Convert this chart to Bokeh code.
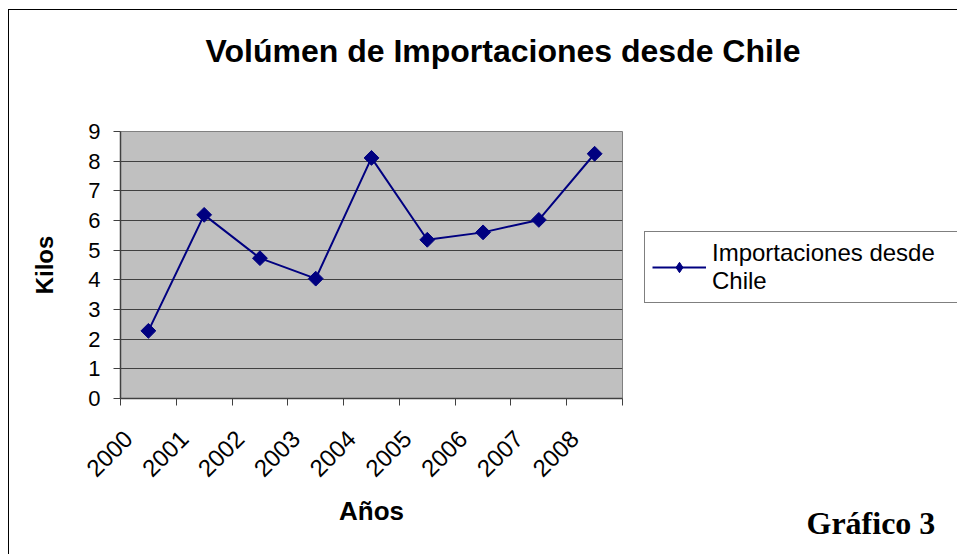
import math
import numpy as np
from bokeh.plotting import figure
from bokeh.models import (FixedTicker, Legend, LegendItem, Title, Range1d)
from bokeh.embed import file_html
from bokeh.resources import INLINE

# ---- data ----
years = ["2000", "2001", "2002", "2003", "2004", "2005", "2006", "2007", "2008"]
kilos = [2.28, 6.19, 4.73, 4.04, 8.11, 5.35, 5.60, 6.02, 8.25]
y_ticks = [0, 1, 2, 3, 4, 5, 6, 7, 8, 9]
title_text = "Volúmen de Importaciones desde Chile"
series_name = "Importaciones desde\nChile"
x_title = "Años"
y_title = "Kilos"
note_text = "Gráfico 3"

FONT = "Liberation Sans"
NAVY = "#000080"

x = np.arange(len(years)) + 0.5
label_shift = 0.36  # labels sit slightly left of the category centre

p = figure(width=948, height=544, frame_width=502, frame_height=267,
           output_backend="svg", toolbar_location=None,
           x_range=Range1d(0, len(years)), y_range=Range1d(0, 9),
           min_border_left=111, min_border_top=121,
           min_border_right=335, min_border_bottom=156)
p.styles = {"border-left": "1px solid black", "border-top": "1px solid black",
            "margin-left": "8px", "margin-top": "9px"}

p.background_fill_color = "#C0C0C0"
p.border_fill_color = "white"
p.outline_line_color = "#808080"
p.outline_line_width = 1

# title: spacer (next to the frame) + main title above it
spacer = Title(text=" ", text_font_size="2px", standoff=36)
p.add_layout(spacer, "above")
main_title = Title(text=title_text, align="left", offset=85,
                   vertical_align="top", standoff=42,
                   text_font=FONT, text_font_size="32px",
                   text_font_style="bold", text_color="black")
p.add_layout(main_title, "above")

# grid
p.xgrid.grid_line_color = None
p.ygrid.grid_line_color = "#404040"
p.ygrid.grid_line_width = 1
p.ygrid.ticker = FixedTicker(ticks=y_ticks)

# y axis
ya = p.yaxis[0]
ya.ticker = FixedTicker(ticks=y_ticks)
ya.axis_line_color = "#404040"
ya.axis_line_width = 1.5
ya.major_tick_line_color = "#404040"
ya.major_tick_out = 7
ya.major_tick_in = 0
ya.minor_tick_line_color = None
ya.major_label_text_font = FONT
ya.major_label_text_font_size = "22px"
ya.major_label_text_color = "black"
ya.major_label_standoff = 13
ya.axis_label = y_title
ya.axis_label_text_font = FONT
ya.axis_label_text_font_size = "24px"
ya.axis_label_text_font_style = "bold"
ya.axis_label_text_color = "black"
ya.axis_label_standoff = 27

# x axis
xa = p.xaxis[0]
label_pos = list(x - label_shift)
xa.ticker = FixedTicker(ticks=label_pos, minor_ticks=list(range(len(years) + 1)))
xa.major_label_overrides = {float(v): lab for v, lab in zip(label_pos, years)}
xa.major_label_orientation = math.pi / 4
xa.axis_line_color = "#404040"
xa.axis_line_width = 1.5
xa.major_tick_line_color = None
xa.minor_tick_line_color = "#404040"
xa.minor_tick_out = 7
xa.minor_tick_in = 0
xa.major_label_text_font = FONT
xa.major_label_text_font_size = "24px"
xa.major_label_text_color = "black"
xa.major_label_standoff = 29
xa.axis_label = x_title
xa.axis_label_text_font = FONT
xa.axis_label_text_font_size = "26px"
xa.axis_label_text_font_style = "bold"
xa.axis_label_text_color = "black"
xa.axis_label_standoff = 9

# series
ln = p.line(x, kilos, line_color=NAVY, line_width=2)
mk = p.scatter(x, kilos, marker="square", angle=math.pi / 4, size=10.5,
               fill_color=NAVY, line_color=NAVY)
# legend-only marker (a single empty point), drawn as a diamond in the key
key = p.scatter(x=[float("nan")], y=[float("nan")], marker="diamond", size=14,
                fill_color=NAVY, line_color=NAVY)

legend = Legend(items=[LegendItem(label=series_name, renderers=[ln, key])],
                location=(22, 95), border_line_color="black", border_line_width=1,
                background_fill_color="white", background_fill_alpha=1,
                label_text_font=FONT, label_text_font_size="24px",
                label_text_line_height=1.3,
                label_text_color="black", label_width=262,
                glyph_width=54, glyph_height=26, label_standoff=6,
                padding=7, margin=0, label_height=20)
p.add_layout(legend, "right")

note = Title(text=note_text, align="left", offset=686, standoff=-50,
             vertical_align="top",
             text_font="Liberation Serif", text_font_size="32px",
             text_font_style="bold", text_color="black")
p.add_layout(note, "below")

open("out.html", "w").write(file_html(p, INLINE))
